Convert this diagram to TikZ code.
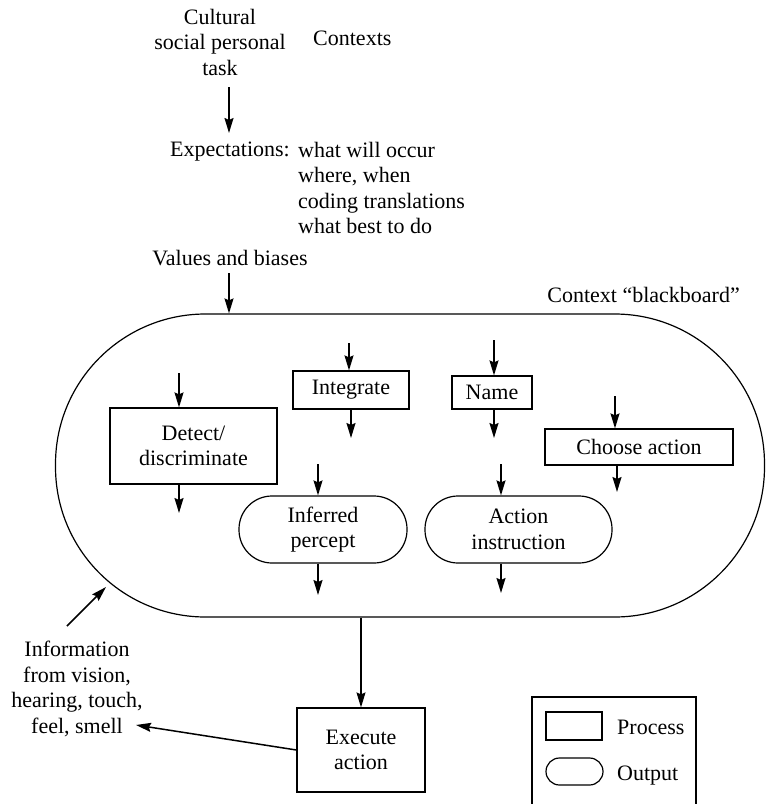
\documentclass[tikz,border=0pt]{standalone}
\usepackage{fontspec}
\setmainfont{Liberation Serif}
\usetikzlibrary{arrows.meta}
\begin{document}
\begin{tikzpicture}[x=1pt,y=-1pt,
  every node/.style={font=\fontsize{22}{25.5}\selectfont},
  proc/.style={draw,line width=1.2pt,inner sep=0pt,align=center},
  outp/.style={proc,rounded corners=33pt},
  arr/.style={-{Stealth[length=15pt,width=9pt,inset=2pt]},line width=1.5pt},
  txt/.style={inner sep=0pt,align=center}]
\useasboundingbox (0,0) rectangle (766,804);

% top texts
\node[txt,anchor=north] (ctx) at (220,9) {Cultural\\social personal\\task};
\node[txt,anchor=base west] (contexts) at (313,45) {Contexts};
\node[txt,anchor=base east] (expl) at (290,156) {Expectations:};
\node[txt,align=left,anchor=north west] (expr) at (298,142) {what will occur\\where, when\\coding translations\\what best to do};
\node[txt,anchor=base] (vals) at (230,265) {Values and biases};
\node[txt,anchor=base east] (bbl) at (740,302) {Context “blackboard”};

\coordinate (cS) at (229,87);
\coordinate (cE) at (229,133);
\draw[arr] (cS) -- (cE);

% blackboard
\node[draw,line width=1.2pt,minimum width=709pt,minimum height=303pt,rounded corners=150pt,inner sep=0pt] (bb) at (410,465.5) {};
\coordinate (vb) at (229,273);
\draw[arr] (vb) -- (vb |- bb.north);

% process boxes
\node[proc,minimum width=167pt,minimum height=76pt] (det) at (193.5,446) {Detect/\\discriminate};
\node[proc,minimum width=116pt,minimum height=38pt] (int) at (351,390) {Integrate};
\node[proc,minimum width=80pt,minimum height=33pt] (nam) at (492,392.5) {Name};
\node[proc,minimum width=188pt,minimum height=36pt] (cho) at (639,447) {Choose action};
\node[outp,minimum width=168pt,minimum height=67pt] (inf) at (323,529.5) {Inferred\\percept};
\node[outp,minimum width=187pt,minimum height=67pt] (act) at (518.5,529.5) {Action\\instruction};
\node[proc,minimum width=128pt,minimum height=84pt] (exe) at (361,750) {Execute\\action};

% stubs
\coordinate (dI) at (179,373); \draw[arr] (dI) -- (dI |- det.north);
\coordinate (dO) at (179,513); \draw[arr] (dO |- det.south) -- (dO);
\coordinate (iI) at (349,343); \draw[arr] (iI) -- (iI |- int.north);
\coordinate (iO) at (351,438); \draw[arr] (iO |- int.south) -- (iO);
\coordinate (nI) at (494,340); \draw[arr] (nI) -- (nI |- nam.north);
\coordinate (nO) at (494,438); \draw[arr] (nO |- nam.south) -- (nO);
\coordinate (chI) at (615,396); \draw[arr] (chI) -- (chI |- cho.north);
\coordinate (chO) at (617,492); \draw[arr] (chO |- cho.south) -- (chO);
\coordinate (pI) at (318,464); \draw[arr] (pI) -- (pI |- inf.north);
\coordinate (pO) at (318,595); \draw[arr] (pO |- inf.south) -- (pO);
\coordinate (aI) at (501,464); \draw[arr] (aI) -- (aI |- act.north);
\coordinate (aO) at (501,593); \draw[arr] (aO |- act.south) -- (aO);

% execute
\draw[arr,line width=1.2pt] (bb.south -| exe.north) -- (exe.north);

% information
\node[txt,anchor=north] (info) at (77,641) {Information\\from vision,\\hearing, touch,\\feel, smell};
\coordinate (iT) at (67,626);
\coordinate (iH) at (106,587);
\draw[arr] (iT) -- (iH);
\coordinate (fs) at (136,725);
\draw[arr] (exe.west) -- (fs);

% legend
\draw[line width=1.2pt] (532,804) -- (532,697) -- (696,697) -- (696,804);
\node[proc,minimum width=56pt,minimum height=28pt] (lp) at (574,726) {};
\node[outp,rounded corners=13.5pt,minimum width=57pt,minimum height=27pt] (lo) at (574.5,771.5) {};
\node[txt,anchor=base west] (lpt) at (617,734) {Process};
\node[txt,anchor=base west] (lot) at (617,780) {Output};
\end{tikzpicture}
\end{document}
